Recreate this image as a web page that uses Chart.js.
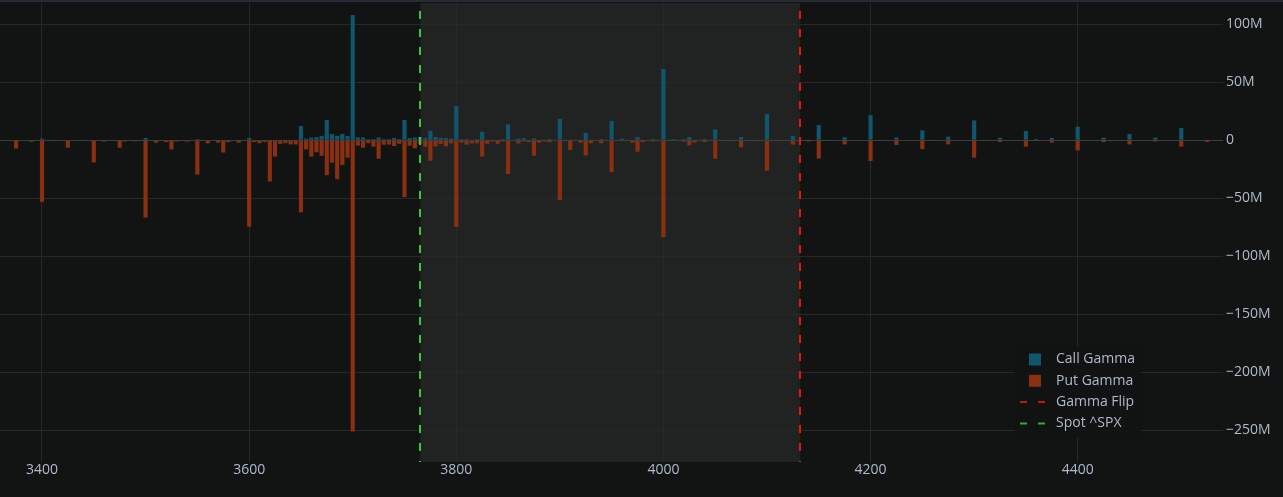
<!DOCTYPE html>
<html>
<head>
<meta charset="utf-8">
<script src="https://cdn.jsdelivr.net/npm/chart.js@4.4.0/dist/chart.umd.min.js"></script>
<style>
    html, body { margin: 0; padding: 0; background: #121413; }
    #wrap { position: relative; width: 1283px; height: 497px; }
</style>
</head>
<body>
<div id="wrap"><canvas id="gammaChart"></canvas></div>
<script>
// strikes and gamma exposure (in millions)
const strikes = [
    3375, 3390, 3400, 3410, 3425, 3440, 3450, 3460, 3470, 3475, 3480, 3490,
    3500, 3510, 3520, 3525, 3530, 3540, 3550, 3560, 3570, 3575, 3580, 3590, 3595,
    3600, 3605, 3610, 3615, 3620, 3625, 3630, 3635, 3640, 3645,
    3650, 3655, 3660, 3665, 3670, 3675, 3680, 3685, 3690, 3695,
    3700, 3705, 3710, 3715, 3720, 3725, 3730, 3735, 3740, 3745,
    3750, 3755, 3760, 3765, 3770, 3775, 3780, 3785, 3790, 3795,
    3800, 3805, 3810, 3815, 3820, 3825, 3830, 3835, 3840, 3845,
    3850, 3855, 3860, 3865, 3870, 3875, 3880, 3885, 3890, 3895,
    3900, 3905, 3910, 3915, 3920, 3925, 3930, 3935, 3940, 3945,
    3950, 3955, 3960, 3965, 3970, 3975, 3980, 3985, 3990, 3995,
    4000, 4005, 4010, 4015, 4020, 4025, 4030, 4035, 4040, 4045,
    4050, 4055, 4060, 4065, 4070, 4075, 4080, 4085, 4090,
    4100, 4105, 4110, 4115, 4120, 4125, 4130, 4135, 4140,
    4150, 4160, 4175, 4200, 4210, 4225, 4250, 4260, 4275,
    4300, 4310, 4325, 4350, 4360, 4375, 4400, 4425, 4450, 4475, 4500, 4525
];
const callGamma = [
    0, 0, 1.5, 0, 0, 0, 0, 0, 0, 0, 0, 0,
    2, 0, 0, 0, 0, 0, 1, 0, 0, 0, 0, 0, 0,
    2, 0, 0, 0, 0, 0, 0.5, 0.5, 0.5, 0.5,
    12.3, 1.5, 2.3, 2.8, 3.7, 17.5, 5.4, 3.9, 5.4, 3.7,
    108, 2.5, 2.5, 1, 1, 2.5, 1, 1, 2, 1,
    17.5, 2, 2.4, 3, 2, 8.3, 2.9, 2, 2, 1.5,
    29.6, 1, 1, 0.5, 1, 7.4, 0.5, 0.3, 0.5, 1,
    13.8, 0.5, 1.5, 2, 0.5, 1.7, 0.5, 0.3, 1, 0.3,
    18.6, 0.3, 0.5, 0.3, 0.5, 6.3, 0.5, 0.3, 1, 0.3,
    16.6, 0.3, 1.5, 0.3, 0.5, 2.9, 0.3, 0.3, 1, 0.3,
    61.5, 0.3, 1, 0.3, 1, 2.9, 0.3, 0.3, 1, 0.3,
    9.5, 0.3, 0.3, 0.3, 0.3, 2.9, 0.3, 0.3, 0.3,
    22.7, 0.3, 0.3, 0.3, 0.3, 3.7, 0.5, 0.3, 0.3,
    13.2, 0.3, 2.6, 21.8, 0.3, 2.5, 8.6, 0.3, 3.2,
    17.2, 0.3, 2.2, 8, 1.2, 2, 11.7, 2.3, 5.4, 2.3, 10.6, 0.5
];
const putGamma = [
    -7, -1.2, -53, -0.6, -6.4, -0.5, -19, -1, -0.5, -6.4, -1, -0.8,
    -66.5, -2, -1.5, -7.8, -1, -1, -29.5, -2.6, -2, -10.5, -1.5, -2, -0.5,
    -74.5, -1.5, -2.5, -1.5, -35.5, -14, -3, -2.5, -3.5, -3.5,
    -62, -7.8, -14, -10.3, -13.3, -30, -19.3, -33.5, -21.3, -15,
    -251, -4.6, -6.4, -2.5, -5.5, -15.9, -3.7, -3.6, -4.9, -3,
    -49, -4.6, -6.9, -3, -5.5, -17.6, -5.2, -3.2, -5.2, -2.6,
    -74.7, -2, -3.7, -2.6, -2.6, -14, -3, -1, -3, -1,
    -29, -0.5, -2.6, -1, -1.5, -13.3, -2, -1, -1.5, -0.5,
    -51.5, -0.5, -8.4, -0.5, -2, -13, -2.5, -0.5, -2.5, -0.5,
    -27.3, -0.5, -0.5, -0.3, -2, -9.8, -1.5, -0.5, -1, -0.5,
    -83.4, -0.5, -0.5, -0.5, -1, -4.3, -2, -0.3, -1.5, -0.3,
    -15.9, -0.3, -0.5, -0.3, -0.5, -6, -0.5, -0.3, -0.5,
    -26.2, -0.3, -0.5, -0.3, -0.5, -3.6, -0.5, -0.5, -1,
    -15.7, -0.5, -3.5, -17.8, -0.3, -4, -7.5, -0.3, -3.5,
    -15, -0.3, -1.5, -5.5, -0.3, -2, -8.6, -1.5, -3.5, -1, -5.5, -1.5
];
const spotPrice = 3765.3;
const gammaFlip = 4132;
const xTicks = [3400, 3600, 3800, 4000, 4200, 4400];
const yTicks = [-250, -200, -150, -100, -50, 0, 50, 100];

const labelColor = '#aebacb';
const gridColor = '#272929';
const callColor = '#10566e';
const putColor = '#8a3010';
const flipColor = '#e81414';
const spotColor = '#38c838';

const toPoints = vals => strikes.map((s, i) => ({ x: s, y: vals[i] * 1e6 }));

// background, shaded spot->flip zone, reference lines and legend
const overlayPlugin = {
    id: 'overlay',
    beforeDraw(chart) {
        const { ctx, chartArea, scales } = chart;
        ctx.save();
        ctx.fillStyle = '#121413';
        ctx.fillRect(0, 0, chart.width, chart.height);
        ctx.fillStyle = '#262b35';
        ctx.fillRect(0, 0, chart.width, 2);
        const x1 = scales.x.getPixelForValue(spotPrice);
        const x2 = scales.x.getPixelForValue(gammaFlip);
        ctx.fillStyle = '#212322';
        ctx.fillRect(x1, chartArea.top, x2 - x1, chartArea.bottom - chartArea.top);
        ctx.restore();
    },
    afterDatasetsDraw(chart) {
        const { ctx, chartArea, scales } = chart;
        ctx.save();
        ctx.lineWidth = 2;
        ctx.setLineDash([8, 10]);
        [[spotPrice, spotColor], [gammaFlip, flipColor]].forEach(([v, c]) => {
            const x = Math.round(scales.x.getPixelForValue(v));
            ctx.strokeStyle = c;
            ctx.beginPath();
            ctx.moveTo(x, chartArea.top + 8);
            ctx.lineTo(x, chartArea.bottom);
            ctx.stroke();
        });
        ctx.restore();
    },
    afterDraw(chart) {
        const { ctx } = chart;
        const items = [
            { label: 'Call Gamma', type: 'box', color: callColor },
            { label: 'Put Gamma', type: 'box', color: putColor },
            { label: 'Gamma Flip', type: 'line', color: '#c01818' },
            { label: 'Spot ^SPX', type: 'line', color: '#38a838' }
        ];
        ctx.save();
        ctx.fillStyle = 'rgba(18,20,19,0.96)';
        ctx.fillRect(1015, 346, 126, 92);
        ctx.font = '14px "Open Sans"';
        ctx.textBaseline = 'middle';
        items.forEach((it, i) => {
            const y = 359.5 + i * 21.3;
            if (it.type === 'box') {
                ctx.fillStyle = it.color;
                ctx.fillRect(1029, y - 6, 12, 12);
            } else {
                ctx.strokeStyle = it.color;
                ctx.lineWidth = 2;
                ctx.setLineDash([7, 11]);
                ctx.beginPath();
                ctx.moveTo(1020, y);
                ctx.lineTo(1048, y);
                ctx.stroke();
                ctx.setLineDash([]);
            }
            ctx.fillStyle = labelColor;
            ctx.fillText(it.label, 1056, y);
        });
        ctx.restore();
    }
};

new Chart(document.getElementById('gammaChart'), {
    type: 'bar',
    data: {
        datasets: [{
            label: 'Call Gamma',
            data: toPoints(callGamma),
            backgroundColor: callColor,
            grouped: false,
            barPercentage: 0.8,
            categoryPercentage: 1.0
        }, {
            label: 'Put Gamma',
            data: toPoints(putGamma),
            backgroundColor: putColor,
            grouped: false,
            barPercentage: 0.8,
            categoryPercentage: 1.0
        }]
    },
    options: {
        responsive: true,
        maintainAspectRatio: false,
        animation: false,
        layout: { autoPadding: false, padding: { top: 3, left: 0, right: 0, bottom: 0 } },
        plugins: {
            legend: { display: false },
            tooltip: { enabled: false }
        },
        scales: {
            x: {
                type: 'linear',
                offset: false,
                min: 3359.45,
                max: 4540.3,
                grid: { color: gridColor, drawTicks: false, offset: false },
                border: { display: false },
                afterBuildTicks: s => { s.ticks = xTicks.map(v => ({ value: v })); },
                afterFit: s => { s.height = 35; s.paddingLeft = 0; s.paddingRight = 0; },
                ticks: {
                    color: labelColor,
                    padding: 0,
                    maxRotation: 0,
                    font: { family: 'Open Sans', size: 14 },
                    callback: v => String(v)
                }
            },
            y: {
                position: 'right',
                min: -277.3e6,
                max: 118.4e6,
                grid: {
                    color: ctx => ctx.tick && ctx.tick.value === 0 ? '#3c3e3e' : gridColor,
                    drawTicks: false
                },
                border: { display: false },
                afterBuildTicks: s => { s.ticks = yTicks.map(v => ({ value: v * 1e6 })); },
                afterFit: s => { s.width = 60; s.paddingTop = 0; s.paddingBottom = 0; },
                ticks: {
                    color: labelColor,
                    padding: 3,
                    font: { family: 'Open Sans', size: 14 },
                    callback: v => v === 0 ? '0' : (v < 0 ? '\u2212' : '') + Math.abs(v / 1e6) + 'M'
                }
            }
        }
    },
    plugins: [overlayPlugin]
});
</script>
</body>
</html>
